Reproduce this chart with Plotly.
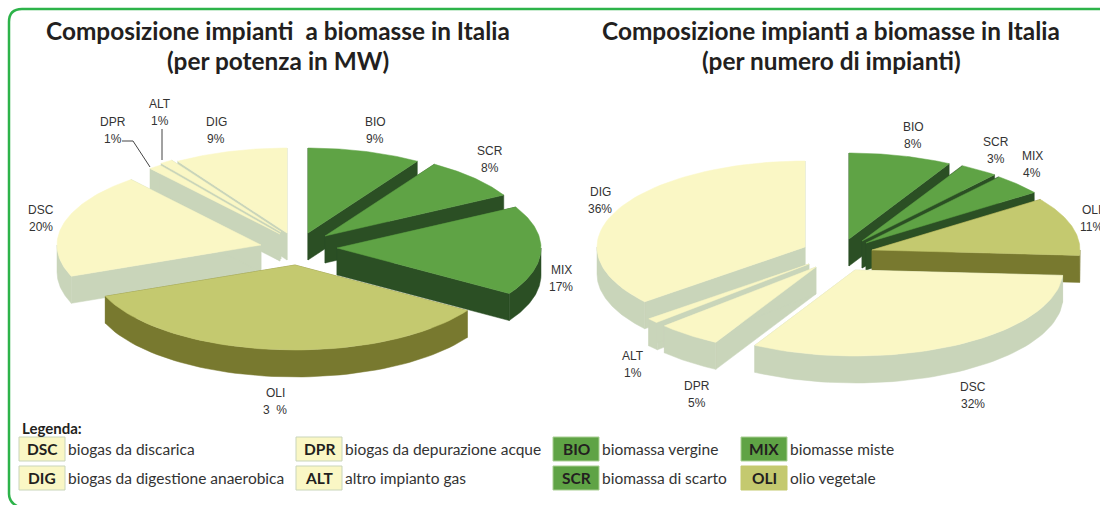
import numpy as np
import plotly.graph_objects as go

# ---- data ----
categories = ["BIO", "SCR", "MIX", "OLI", "DSC", "DPR", "ALT", "DIG"]
potenza_values = [9, 8, 17, 35, 20, 1, 1, 9]
potenza_labels = ["9%", "8%", "17%", "3\u00a0\u00a0%", "20%", "1%", "1%", "9%"]
numero_values = [8, 3, 4, 11, 32, 5, 1, 36]
numero_labels = ["8%", "3%", "4%", "11%", "32%", "5%", "1%", "36%"]

legend_codes = ["DSC", "DIG", "DPR", "ALT", "BIO", "SCR", "MIX", "OLI"]
legend_texts = ["biogas da discarica", "biogas da digestione anaerobica",
                "biogas da depurazione acque", "altro impianto gas",
                "biomassa vergine", "biomassa di scarto",
                "biomasse miste", "olio vegetale"]

# ---- styles and layout ----
CREAM, CREAM_W = "#FAF7C5", "#C9D5BA"
GREEN, GREEN_W = "#5FA345", "#2B4F24"
OLIVE, OLIVE_W = "#C4C96F", "#78792F"
COLORS = {"BIO": (GREEN, GREEN_W), "SCR": (GREEN, GREEN_W), "MIX": (GREEN, GREEN_W),
          "OLI": (OLIVE, OLIVE_W), "DSC": (CREAM, CREAM_W), "DPR": (CREAM, CREAM_W),
          "ALT": (CREAM, CREAM_W), "DIG": (CREAM, CREAM_W)}
DEPTH = 27
TEXT = "#333333"

PIES = [
    dict(values=potenza_values, labels=potenza_labels, rx=204, ry=85,
         apex=dict(BIO=(308, 233), SCR=(325, 236), MIX=(337, 248), OLI=(295, 265),
                   DSC=(261, 245), DPR=(280, 234), ALT=(281, 232), DIG=(287, 233)),
         order=["BIO", "SCR", "DIG", "ALT", "DPR", "DSC", "MIX", "OLI"],
         pos=dict(BIO=(375, 130), SCR=(490, 159), MIX=(561, 278), OLI=(275, 401),
                  DSC=(41, 218), DPR=(113, 130), ALT=(160, 112.5), DIG=(216, 130))),
    dict(values=numero_values, labels=numero_labels, rx=208, ry=86,
         apex=dict(BIO=(849, 239), SCR=(862, 241), MIX=(866, 243), OLI=(872, 250),
                   DSC=(855, 270), DPR=(816, 267), ALT=(809, 264), DIG=(805, 247)),
         order=["BIO", "SCR", "MIX", "OLI", "DIG", "ALT", "DPR", "DSC"],
         pos=dict(BIO=(913, 135.5), SCR=(996, 150.5), MIX=(1032, 164.5), OLI=(1091, 218.5),
                  DSC=(973, 395), DPR=(697, 394), ALT=(633, 364.5), DIG=(600, 200))),
]

fig = go.Figure()


def poly(xs, ys, color):
    fig.add_trace(go.Scatter(x=list(xs), y=list(ys), mode="lines", fill="toself",
                             fillcolor=color, line=dict(color=color, width=0.5),
                             hoverinfo="skip", showlegend=False))


for pie in PIES:
    total = sum(pie["values"])
    edges = np.cumsum([0] + pie["values"]) / total * 360.0
    spans = {c: (edges[i], edges[i + 1]) for i, c in enumerate(categories)}
    annotations_text = dict(zip(categories, pie["labels"]))
    for cat in pie["order"]:
        a0, a1 = spans[cat]
        ax, ay = pie["apex"][cat]
        top, wall = COLORS[cat]
        th = np.radians(np.linspace(a0, a1, 60))
        ex = ax + pie["rx"] * np.sin(th)
        ey = ay - pie["ry"] * np.cos(th)
        # cut faces
        for px, py in ((ex[0], ey[0]), (ex[-1], ey[-1])):
            poly([ax, px, px, ax, ax], [ay, py, py + DEPTH, ay + DEPTH, ay], wall)
        # rim facing the viewer
        lo, hi = max(a0, 90), min(a1, 270)
        if hi > lo:
            t2 = np.radians(np.linspace(lo, hi, 60))
            rx_ = ax + pie["rx"] * np.sin(t2)
            ry_ = ay - pie["ry"] * np.cos(t2)
            poly(np.r_[rx_, rx_[::-1], rx_[0]],
                 np.r_[ry_, ry_[::-1] + DEPTH, ry_[0]], wall)
        # top face
        poly(np.r_[ax, ex, ax], np.r_[ay, ey, ay], top)
        lx, ly = pie["pos"][cat]
        for dy, line_text in ((-8.5, cat), (8.5, annotations_text[cat])):
            fig.add_annotation(x=lx, y=ly + dy, text=line_text,
                               showarrow=False, xanchor="center", yanchor="middle",
                               font=dict(family="Liberation Sans", size=12, color=TEXT))

# leader lines of the small slices in the left chart
fig.add_shape(type="path", path="M 122,141 L 133,141 L 150,167",
              line=dict(color="#444444", width=1))
fig.add_shape(type="line", x0=162, x1=162, y0=129, y1=160,
              line=dict(color="#444444", width=1))

# titles
TITLE_FONT = dict(family="Lato", size=24.4, color="#231F20")
for x, t1, t2 in ((278, "Composizione impianti\u00a0 a biomasse in Italia", "(per potenza in MW)"),
                  (831, "Composizione impianti a biomasse in Italia", "(per numero di impianti)")):
    fig.add_annotation(x=x, y=30, text=f"<b>{t1}</b>", showarrow=False, font=TITLE_FONT)
    fig.add_annotation(x=x, y=60, text=f"<b>{t2}</b>", showarrow=False, font=TITLE_FONT)

# legend
fig.add_annotation(x=20, y=428, text="<b>Legenda:</b>", showarrow=False, xanchor="left",
                   font=dict(family="Lato", size=15, color="#231F20"))
box_left = [19, 19, 296, 296, 553, 553, 741, 741]
box_top = [437, 466, 437, 466, 437, 466, 437, 466]
for code, label, bx, by in zip(legend_codes, legend_texts, box_left, box_top):
    fill = COLORS[code][0]
    border = "#A9CF93" if fill == GREEN else ("#C9D5BA" if fill == CREAM else fill)
    fig.add_shape(type="rect", x0=bx, x1=bx + 46, y0=by, y1=by + 24, fillcolor=fill,
                  line=dict(color=border, width=1))
    fig.add_annotation(x=bx + 23, y=by + 12, text=f"<b>{code}</b>", showarrow=False,
                       font=dict(family="Lato", size=15.5, color="#231F20"))
    fig.add_annotation(x=bx + 47, y=by + 12, text=label, showarrow=False, xanchor="left",
                       font=dict(family="Lato", size=15.5, color=TEXT))

# green frame
fig.add_shape(type="path", path="M 1100,9 L 22,9 Q 9,9 9,22 L 9,494 Q 9,502 17,506",
              line=dict(color="#2DB34A", width=2.5))

fig.update_xaxes(range=[0, 1100], visible=False, fixedrange=True)
fig.update_yaxes(range=[505, 0], visible=False, fixedrange=True)
fig.update_layout(width=1100, height=505, margin=dict(l=0, r=0, t=0, b=0),
                  paper_bgcolor="white", plot_bgcolor="white", showlegend=False)
fig.write_html("out.html", config=dict(displayModeBar=False),
               post_script="document.body.style.margin='0';")
